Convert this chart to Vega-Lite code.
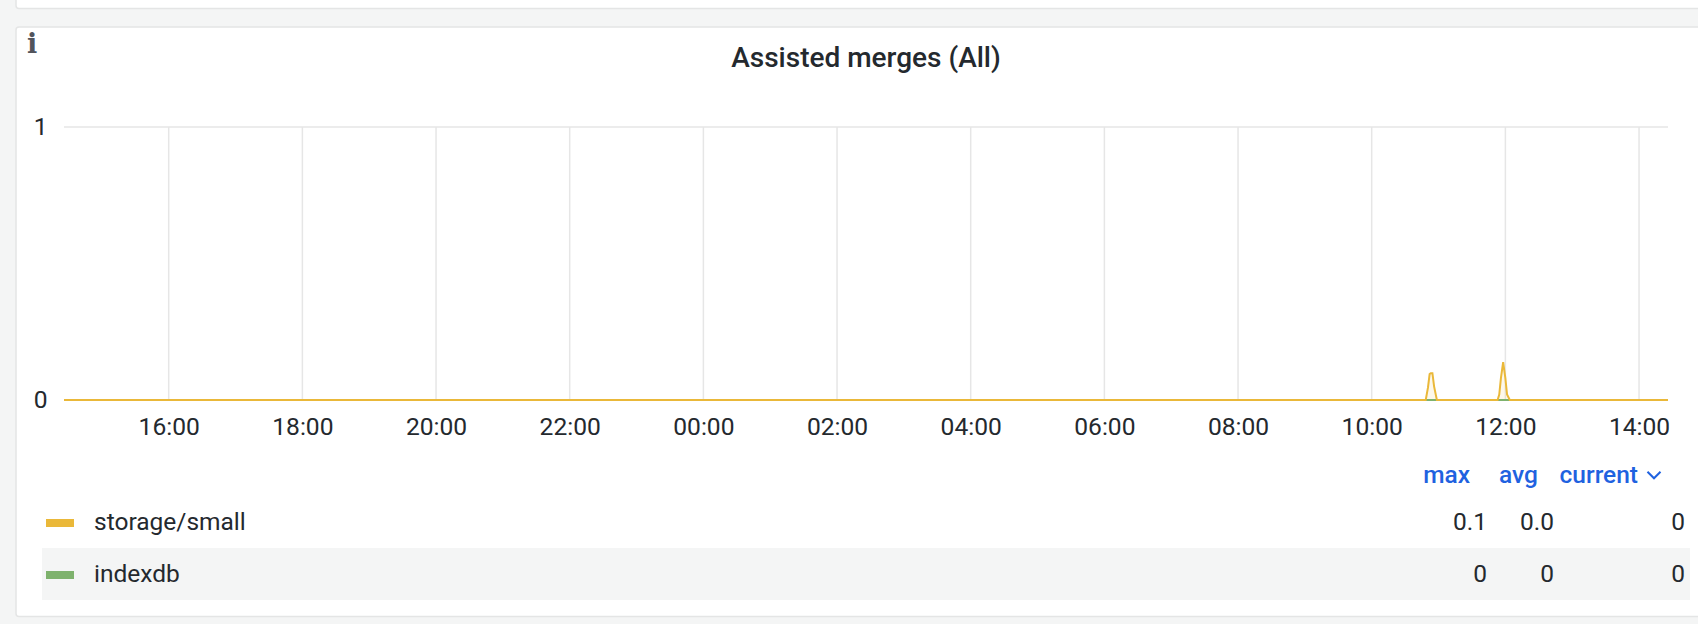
{
"$schema":"https://vega.github.io/schema/vega-lite/v6.json",
"width":1604,"height":273,
"padding":{"left":64,"top":127,"right":30,"bottom":224},
"autosize":{"type":"none"},
"background":"#f4f5f5",
"config":{"view":{"stroke":null},"font":"Roboto"},
"title":{"text":"Assisted merges (All)","font":"Roboto","fontSize":28,"fontWeight":500,"color":"#24292e","anchor":"middle","offset":-107,"zindex":1},
"datasets":{
"ticks":[{"t":"2021-03-01T16:00:00"},{"t":"2021-03-01T18:00:00"},{"t":"2021-03-01T20:00:00"},{"t":"2021-03-01T22:00:00"},{"t":"2021-03-02T00:00:00"},{"t":"2021-03-02T02:00:00"},{"t":"2021-03-02T04:00:00"},{"t":"2021-03-02T06:00:00"},{"t":"2021-03-02T08:00:00"},{"t":"2021-03-02T10:00:00"},{"t":"2021-03-02T12:00:00"},{"t":"2021-03-02T14:00:00"}],
"series":[
{"series":"indexdb","t":"2021-03-01T14:26:00","v":0},{"series":"indexdb","t":"2021-03-01T18:00:00","v":0},{"series":"indexdb","t":"2021-03-01T22:00:00","v":0},{"series":"indexdb","t":"2021-03-02T02:00:00","v":0},{"series":"indexdb","t":"2021-03-02T06:00:00","v":0},{"series":"indexdb","t":"2021-03-02T10:00:00","v":0},{"series":"indexdb","t":"2021-03-02T14:26:00","v":0},
{"series":"storage/small","t":"2021-03-01T14:26:00","v":0},{"series":"storage/small","t":"2021-03-01T18:00:00","v":0},{"series":"storage/small","t":"2021-03-01T22:00:00","v":0},{"series":"storage/small","t":"2021-03-02T02:00:00","v":0},{"series":"storage/small","t":"2021-03-02T06:00:00","v":0},{"series":"storage/small","t":"2021-03-02T10:00:00","v":0},
{"series":"storage/small","t":"2021-03-02T10:48:30","v":0},{"series":"storage/small","t":"2021-03-02T10:50:30","v":0.045},{"series":"storage/small","t":"2021-03-02T10:52:00","v":0.095},{"series":"storage/small","t":"2021-03-02T10:53:00","v":0.098},{"series":"storage/small","t":"2021-03-02T10:54:30","v":0.098},{"series":"storage/small","t":"2021-03-02T10:56:00","v":0.05},{"series":"storage/small","t":"2021-03-02T10:58:30","v":0},
{"series":"storage/small","t":"2021-03-02T11:53:00","v":0},{"series":"storage/small","t":"2021-03-02T11:54:30","v":0.02},{"series":"storage/small","t":"2021-03-02T11:56:00","v":0.08},{"series":"storage/small","t":"2021-03-02T11:58:00","v":0.139},{"series":"storage/small","t":"2021-03-02T12:00:00","v":0.08},{"series":"storage/small","t":"2021-03-02T12:01:30","v":0.02},{"series":"storage/small","t":"2021-03-02T12:04:00","v":0},
{"series":"storage/small","t":"2021-03-02T14:26:00","v":0}
],
"legend":[{"series":"storage/small","row":1},{"series":"indexdb","row":2}],
"table":[
{"text":"storage/small","col":1,"row":1},
{"text":"indexdb","col":1,"row":2},
{"text":"0.1","col":2,"row":1},{"text":"0.0","col":3,"row":1},{"text":"0","col":4,"row":1},
{"text":"0","col":2,"row":2},{"text":"0","col":3,"row":2},{"text":"0","col":4,"row":2}
],
"header":[{"text":"max","col":0},{"text":"avg","col":1},{"text":"current","col":2}]
},
"resolve":{"scale":{"x":"independent","y":"independent"}},
"layer":[
{"data":{"values":[{"panel":"previous"}]},"mark":{"type":"rect","fill":"#ffffff","stroke":"#e4e5e5","strokeWidth":1.5,"cornerRadius":3},
 "encoding":{"x":{"datum":0,"type":"quantitative","axis":null,"scale":{"domain":[0,1],"range":[-48,1700]}},"x2":{"datum":1},"y":{"datum":0,"type":"quantitative","axis":null,"scale":{"domain":[0,1],"range":[-160,-118.5]}},"y2":{"datum":1}}},
{"data":{"values":[{"panel":"current"}]},"mark":{"type":"rect","fill":"#ffffff","stroke":"#e4e5e5","strokeWidth":1.5,"cornerRadius":3},
 "encoding":{"x":{"datum":0,"type":"quantitative","axis":null,"scale":{"domain":[0,1],"range":[-48,1700]}},"x2":{"datum":1},"y":{"datum":0,"type":"quantitative","axis":null,"scale":{"domain":[0,1],"range":[-100,489.5]}},"y2":{"datum":1}}},
{"data":{"values":[{"panel":"stripe"}]},"mark":{"type":"rect","fill":"#f4f5f5"},
 "encoding":{"x":{"datum":0,"type":"quantitative","axis":null,"scale":{"domain":[0,1],"range":[-22,1626]}},"x2":{"datum":1},"y":{"datum":0,"type":"quantitative","axis":null,"scale":{"domain":[0,1],"range":[421,473]}},"y2":{"datum":1}}},
{"data":{"values":[{"text":"i"}]},"mark":{"type":"text","font":"DejaVu Serif","fontWeight":"bold","fontSize":27,"color":"#52545c","align":"center","baseline":"middle"},
 "encoding":{"text":{"field":"text"},"x":{"datum":0,"type":"quantitative","axis":null,"scale":{"domain":[0,1],"range":[-32,0]}},"y":{"datum":0,"type":"quantitative","axis":null,"scale":{"domain":[0,1],"range":[-82,0]}}}},
{"data":{"name":"ticks"},"mark":{"type":"rule","color":"#e6e6e6","strokeWidth":1.5},
 "encoding":{"x":{"field":"t","type":"temporal","axis":null,"scale":{"domain":["2021-03-01T14:26:00","2021-03-02T14:26:00"]}}}},
{"data":{"values":[{"v":0},{"v":1}]},"mark":{"type":"rule","color":"#e6e6e6","strokeWidth":1.5},
 "encoding":{"y":{"field":"v","type":"quantitative","axis":null,"scale":{"domain":[0,1]}}}},
{"data":{"name":"series"},"mark":{"type":"area","opacity":0.1,"interpolate":"linear"},
 "encoding":{"x":{"field":"t","type":"temporal","axis":null,"scale":{"domain":["2021-03-01T14:26:00","2021-03-02T14:26:00"]}},"y":{"field":"v","type":"quantitative","axis":null,"scale":{"domain":[0,1]}},"color":{"field":"series","type":"nominal","legend":null,"scale":{"domain":["storage/small","indexdb"],"range":["#eab839","#7eb26d"]}}}},
{"data":{"name":"series"},"mark":{"type":"line","strokeWidth":2,"interpolate":"linear"},
 "encoding":{"x":{"field":"t","type":"temporal","scale":{"domain":["2021-03-01T14:26:00","2021-03-02T14:26:00"]},"title":null,"axis":{"format":"%H:%M","values":["2021-03-01T16:00:00","2021-03-01T18:00:00","2021-03-01T20:00:00","2021-03-01T22:00:00","2021-03-02T00:00:00","2021-03-02T02:00:00","2021-03-02T04:00:00","2021-03-02T06:00:00","2021-03-02T08:00:00","2021-03-02T10:00:00","2021-03-02T12:00:00","2021-03-02T14:00:00"],"grid":false,"domain":false,"ticks":false,"labelFont":"Roboto","labelFontSize":24.6,"labelColor":"#24292e","labelPadding":15,"labelFlush":false,"labelOverlap":false,"zindex":1}},
 "y":{"field":"v","type":"quantitative","scale":{"domain":[0,1]},"title":null,"axis":{"values":[0,1],"format":"d","grid":false,"domain":false,"ticks":false,"labelFont":"Roboto","labelFontSize":24.6,"labelColor":"#24292e","labelPadding":17,"zindex":1}},
 "color":{"field":"series","type":"nominal","legend":null,"scale":{"domain":["storage/small","indexdb"],"range":["#eab839","#7eb26d"]}}}},
{"data":{"name":"header"},"mark":{"type":"text","font":"Roboto","fontWeight":500,"fontSize":24.5,"color":"#1f62e0","align":"right","baseline":"middle"},
 "encoding":{"text":{"field":"text"},"x":{"field":"col","type":"quantitative","axis":null,"scale":{"domain":[0,1,2],"range":[1406,1474,1574]}},"y":{"datum":0,"type":"quantitative","axis":null,"scale":{"domain":[0,1],"range":[349,0]}}}},
{"data":{"values":[{"icon":"chevron"}]},"mark":{"type":"point","shape":"M-1,-0.5L0,0.5L1,-0.5","stroke":"#1f62e0","strokeWidth":2,"fill":null,"size":170,"opacity":1},
 "encoding":{"x":{"datum":0,"type":"quantitative","axis":null,"scale":{"domain":[0,1],"range":[1590,1700]}},"y":{"datum":0,"type":"quantitative","axis":null,"scale":{"domain":[0,1],"range":[348,0]}}}},
{"data":{"name":"legend"},"mark":{"type":"rule","strokeWidth":8},
 "encoding":{"x":{"datum":0,"type":"quantitative","axis":null,"scale":{"domain":[0,1],"range":[-18,10]}},"x2":{"datum":1},"y":{"field":"row","type":"quantitative","axis":null,"scale":{"domain":[1,2],"range":[396,448]}},"color":{"field":"series","type":"nominal","legend":null,"scale":{"domain":["storage/small","indexdb"],"range":["#eab839","#7eb26d"]}}}},
{"data":{"name":"table"},"transform":[{"filter":"datum.col == 1"}],"mark":{"type":"text","font":"Roboto","fontSize":24.5,"color":"#24292e","align":"left","baseline":"middle"},
 "encoding":{"text":{"field":"text"},"x":{"field":"col","type":"quantitative","axis":null,"scale":{"domain":[1,4],"range":[30,1621]}},"y":{"field":"row","type":"quantitative","axis":null,"scale":{"domain":[1,2],"range":[396,448]}}}},
{"data":{"name":"table"},"transform":[{"filter":"datum.col > 1"}],"mark":{"type":"text","font":"Roboto","fontSize":24.5,"color":"#24292e","align":"right","baseline":"middle"},
 "encoding":{"text":{"field":"text"},"x":{"field":"col","type":"quantitative","axis":null,"scale":{"domain":[2,3,4],"range":[1423,1490,1621]}},"y":{"field":"row","type":"quantitative","axis":null,"scale":{"domain":[1,2],"range":[396,448]}}}}
]
}
